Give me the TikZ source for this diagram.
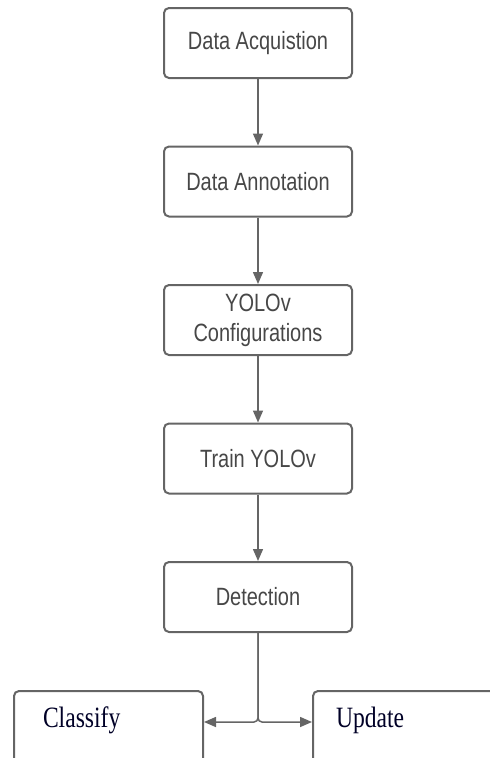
\documentclass[tikz,border=0pt]{standalone}
\usepackage{fontspec}
\usetikzlibrary{arrows.meta,positioning,calc}
\newfontfamily\flowfont[FakeStretch=0.8]{Liberation Sans}
\newfontfamily\outfont[FakeStretch=0.8]{Liberation Serif}
\definecolor{linegray}{HTML}{656565}
\definecolor{textgray}{HTML}{474747}
\tikzset{
  stepbox/.style={draw=linegray, line width=2pt, rounded corners=5pt,
    minimum width=188pt, minimum height=70pt, align=center,
    text=textgray, font=\flowfont\fontsize{25}{30}\selectfont},
  outbox/.style={draw=linegray, line width=2pt, rounded corners=5pt,
    anchor=north west, align=left, inner ysep=0pt,
    text height=36pt, text depth=60pt, text=black!85!blue,
    font=\outfont\fontsize{29.5}{34}\selectfont},
  flow/.style={draw=linegray, line width=1.5pt,
    -{Triangle[length=12pt,width=10pt]}}
}
\begin{document}
\begin{tikzpicture}[x=1pt,y=-1pt]
\useasboundingbox (0,0) rectangle (490,758);
\clip (0,0) rectangle (490,758);
\node (acq) [stepbox] at (258,43) {Data Acquistion};
\node (annot) [stepbox, below=66.5pt of acq] {Data Annotation};
\node (config) [stepbox, below=66.5pt of annot] {YOLOv\\Configurations};
\node (train) [stepbox, below=66.5pt of config] {Train YOLOv};
\node (detect) [stepbox, below=66.5pt of train] {Detection};
\node (classify) [outbox, inner xsep=29pt, text width=131pt] at (13,690) {Classify};
\node (update) [outbox, inner xsep=23pt, text width=160pt] at (312,690) {Update};
\coordinate (split) at (258,722);
\draw[flow] (acq) -- (annot);
\draw[flow] (annot) -- (config);
\draw[flow] (config) -- (train);
\draw[flow] (train) -- (detect);
\draw[flow, rounded corners=4pt] (detect.south) |- (split -| classify.east);
\draw[flow, rounded corners=4pt] (detect.south) |- (split -| update.west);
\end{tikzpicture}
\end{document}
